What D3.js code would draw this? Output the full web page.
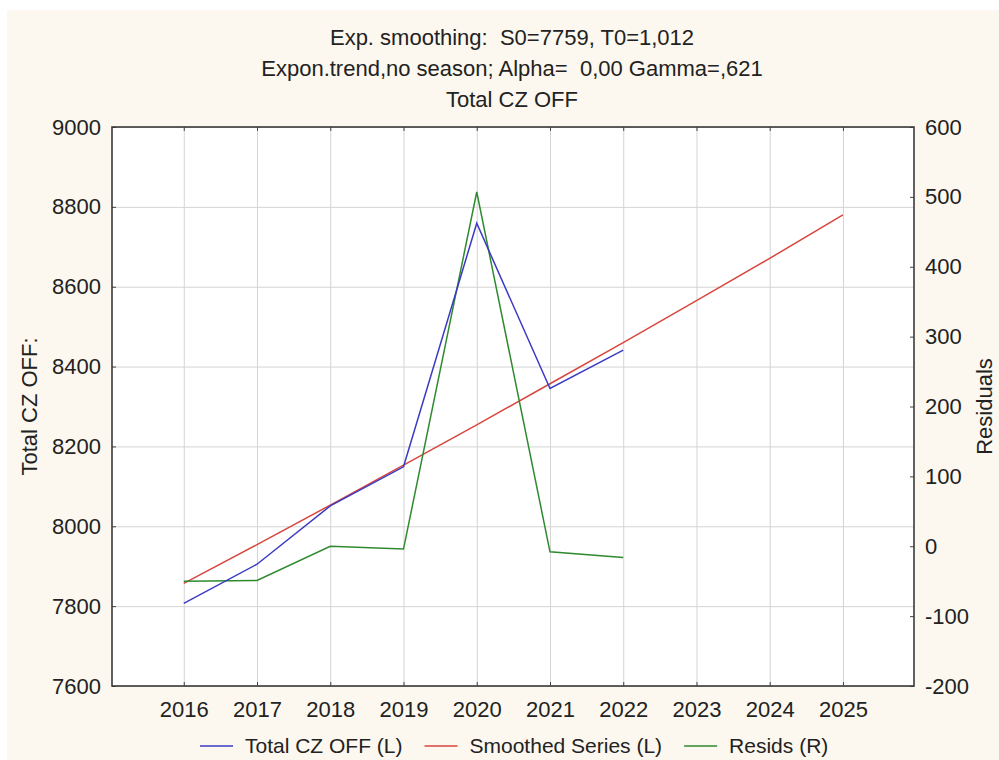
<!DOCTYPE html>
<html>
<head>
<meta charset="utf-8">
<script src="https://cdn.jsdelivr.net/npm/d3@7"></script>
<style>
  body { margin: 0; background: #ffffff; }
  text { font-family: "Liberation Sans", Arial, sans-serif; fill: #222222; white-space: pre; }
</style>
</head>
<body>
<div id="graphique"></div>
<script>
// Donnees
const annees = [2016, 2017, 2018, 2019, 2020, 2021, 2022, 2023, 2024, 2025];
const anneesObservees = [2016, 2017, 2018, 2019, 2020, 2021, 2022];
const totalCzOff = [7807, 7905, 8051, 8149, 8759, 8345, 8441];
const serieLissee = [7857, 7954, 8053, 8153, 8254, 8357, 8460, 8565, 8671, 8780];
const residus = [-50, -49, 0, -4, 507, -8, -16];

const ticksGauche = [7600, 7800, 8000, 8200, 8400, 8600, 8800, 9000];
const ticksDroite = [-200, -100, 0, 100, 200, 300, 400, 500, 600];

const titres = [
  "Exp. smoothing:  S0=7759, T0=1,012",
  "Expon.trend,no season; Alpha=  0,00 Gamma=,621",
  "Total CZ OFF"
];
const legende = [
  {nom: "Total CZ OFF (L)", couleur: "#3a3ac4"},
  {nom: "Smoothed Series (L)", couleur: "#d8463e"},
  {nom: "Resids (R)", couleur: "#2f8a2f"}
];

// Dimensions
const largeur = 999, hauteur = 760;
const margin = {top: 127, right: 85, bottom: 74, left: 112};
const w = largeur - margin.left - margin.right;
const h = hauteur - margin.top - margin.bottom;

const svg = d3.select("#graphique").append("svg")
    .attr("width", largeur)
    .attr("height", hauteur);

// Fond creme
svg.append("rect")
    .attr("x", 7).attr("y", 10)
    .attr("width", largeur - 7).attr("height", hauteur - 10)
    .attr("fill", "#fcf8ef");

const g = svg.append("g")
    .attr("transform", "translate(" + margin.left + "," + margin.top + ")");

// Echelles
const x = d3.scaleLinear().domain([2015.02, 2025.97]).range([0, w]);
const yG = d3.scaleLinear().domain([7600, 9000]).range([h, 0]);
const yD = d3.scaleLinear().domain([-200, 600]).range([h, 0]);

// Format simple, sans separateur de milliers, avec un tiret ordinaire
const formatSimple = d => String(d);

g.append("rect")
    .attr("width", w).attr("height", h)
    .attr("fill", "#ffffff");

// Grille
g.append("g")
    .attr("class", "grille")
    .call(d3.axisLeft(yG).tickValues(ticksGauche).tickSize(-w).tickFormat(""))
    .call(s => s.select(".domain").remove())
    .call(s => s.selectAll("line").attr("stroke", "#d4d4d4"));
g.append("g")
    .attr("class", "grille")
    .attr("transform", "translate(0," + h + ")")
    .call(d3.axisBottom(x).tickValues(annees).tickSize(-h).tickFormat(""))
    .call(s => s.select(".domain").remove())
    .call(s => s.selectAll("line").attr("stroke", "#d4d4d4"));

// Axes (ticks vers l'interieur)
function styleAxe(s) {
  s.select(".domain").remove();
  s.selectAll("line").attr("stroke", "#444444");
  s.selectAll("text")
    .style("font-family", '"Liberation Sans", Arial, sans-serif')
    .style("font-size", "22px")
    .attr("fill", "#222222");
}

g.append("g")
    .call(d3.axisLeft(yG).tickValues(ticksGauche).tickFormat(formatSimple)
      .tickSizeInner(-4).tickSizeOuter(0).tickPadding(11))
    .call(styleAxe);

g.append("g")
    .attr("transform", "translate(" + w + ",0)")
    .call(d3.axisRight(yD).tickValues(ticksDroite).tickFormat(formatSimple)
      .tickSizeInner(-4).tickSizeOuter(0).tickPadding(11))
    .call(styleAxe);

g.append("g")
    .attr("transform", "translate(0," + h + ")")
    .call(d3.axisBottom(x).tickValues(annees).tickFormat(formatSimple)
      .tickSizeInner(-4).tickSizeOuter(0).tickPadding(15))
    .call(styleAxe);

g.append("g")
    .call(d3.axisTop(x).tickValues(annees).tickFormat("").tickSizeInner(-4).tickSizeOuter(0))
    .call(styleAxe);

// Cadre
g.append("rect")
    .attr("width", w).attr("height", h)
    .attr("fill", "none")
    .attr("stroke", "#3a3a3a")
    .attr("stroke-width", 1.6);

// Series
const ligneG = d3.line().x(d => x(d[0])).y(d => yG(d[1]));
const ligneD = d3.line().x(d => x(d[0])).y(d => yD(d[1]));

g.append("path")
    .datum(annees.map((a, i) => [a, serieLissee[i]]))
    .attr("fill", "none").attr("stroke", legende[1].couleur).attr("stroke-width", 1.5)
    .attr("d", ligneG);

g.append("path")
    .datum(anneesObservees.map((a, i) => [a, residus[i]]))
    .attr("fill", "none").attr("stroke", legende[2].couleur).attr("stroke-width", 1.5)
    .attr("d", ligneD);

g.append("path")
    .datum(anneesObservees.map((a, i) => [a, totalCzOff[i]]))
    .attr("fill", "none").attr("stroke", legende[0].couleur).attr("stroke-width", 1.5)
    .attr("d", ligneG);

// Titres
svg.selectAll("text.titre")
    .data(titres)
    .enter()
    .append("text")
    .attr("class", "titre")
    .attr("x", 512)
    .attr("y", (d, i) => 45 + i * 31)
    .attr("text-anchor", "middle")
    .attr("xml:space", "preserve")
    .style("font-size", "22px")
    .text(d => d);

// Titres des axes
svg.append("text")
    .attr("transform", "translate(37," + (margin.top + h / 2) + ") rotate(-90)")
    .attr("text-anchor", "middle")
    .style("font-size", "22px")
    .text("Total CZ OFF:");

svg.append("text")
    .attr("transform", "translate(992," + (margin.top + h / 2) + ") rotate(-90)")
    .attr("text-anchor", "middle")
    .style("font-size", "22px")
    .text("Residuals");

// Legende
const leg = svg.append("g").attr("class", "legende");
let posX = 200;
legende.forEach(item => {
  leg.append("line")
      .attr("x1", posX).attr("x2", posX + 33)
      .attr("y1", 746).attr("y2", 746)
      .attr("stroke", item.couleur).attr("stroke-width", 1.5);
  const t = leg.append("text")
      .attr("x", posX + 45)
      .attr("y", 753)
      .style("font-size", "21px")
      .text(item.nom);
  posX = posX + 45 + t.node().getComputedTextLength() + 22;
});
</script>
</body>
</html>
